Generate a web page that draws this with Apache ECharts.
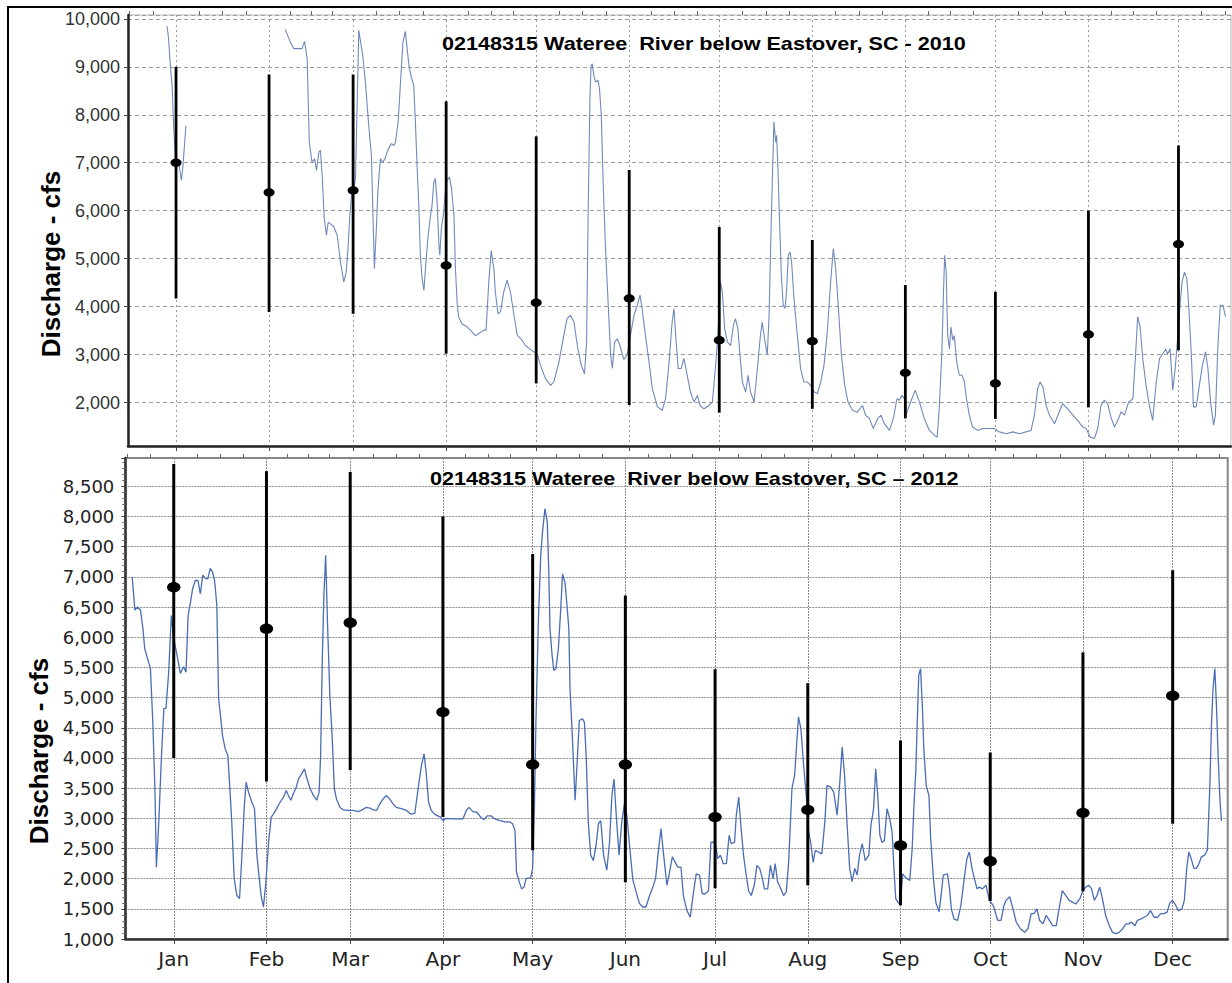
<!DOCTYPE html>
<html><head><meta charset="utf-8">
<script src="https://cdn.jsdelivr.net/npm/echarts@6/dist/echarts.min.js"></script>
<style>html,body{margin:0;padding:0;background:#fff}#c{width:1232px;height:983px}</style>
</head><body><div id="c"></div>
<script>
// ---- categories / tick labels ----
const months = ['Jan','Feb','Mar','Apr','May','Jun','Jul','Aug','Sep','Oct','Nov','Dec'];
const monthStartDay = [0,31,59,90,120,151,181,212,243,273,304,334];
const monthLength = [31,28,31,30,31,30,31,31,30,31,30,31];

// ---- monthly statistics (error bars), cfs ----
const stats2010Low  = [4170,3890,3850,3020,2400,1950,1790,1870,1670,1660,1900,3090];
const stats2010Mid  = [7000,6380,6420,4860,4080,4170,3300,3280,2620,2400,3420,5300];
const stats2010High = [9000,8840,8840,8280,7550,6850,5660,5390,4450,4310,6000,7360];
const stats2012Low  = [4000,3610,3800,3020,2470,1940,1840,1890,1560,1630,1790,2910];
const stats2012Mid  = [6830,6140,6240,4760,3890,3890,3020,3140,2550,2290,3090,5030];
const stats2012High = [8870,8750,8740,8000,7380,6690,5470,5240,4290,4090,5750,7110];

// ---- daily discharge [day of year (Jan 1 = 0), cfs] ----
const flow2010 = [
[-3,9850],[-2.5,9600],[-1.9,9030],[-1.3,8600],[-0.8,7780],[-0.2,7030],[0.9,7000],[1.8,6630],[2.3,6930],[3.3,7770],[4,null],
[36.4,9780],[38.1,9510],[39.2,9380],[42,9380],[42.8,9530],[43.7,9170],[44.4,7430],[45.3,7010],[46.2,7080],[46.8,6840],[47.6,7220],[48.1,7260],[48.7,6740],[49.4,5830],[50.1,5490],[50.7,5760],[51.4,5730],[52.6,5660],[53.7,5490],[54.8,4930],[55.9,4510],[56.7,4720],[57.3,5210],[57.9,5900],[58.7,6460],[59.2,6460],[59.8,6670],[60.9,9760],[62.2,9240],[63.1,8680],[64.2,7780],[65.1,7150],[65.6,5970],[66.1,4790],[66.7,5560],[67.3,6460],[68.1,7080],[68.9,7010],[69.6,7080],[70.3,7220],[71.1,7330],[71.8,7400],[72.6,7360],[73.1,7430],[74,7850],[74.8,8680],[75.6,9510],[76.4,9740],[77,9380],[77.6,9030],[78.4,8780],[79.2,8610],[79.8,7780],[80.3,6940],[80.9,6110],[81.4,5070],[82,4580],[82.6,4340],[83.1,4790],[84,5490],[84.8,5900],[85.3,6110],[85.9,6600],[86.4,6670],[87,6180],[87.6,5280],[87.9,5070],[88.4,5630],[89.2,5970],[89.8,6460],[90.3,6630],[91.1,6700],[91.8,6460],[92.6,5900],[93.1,4790],[93.7,4030],[94.2,3780],[95.3,3640],[97,3580],[98.7,3470],[99.8,3390],[100.9,3440],[102.6,3510],[103.3,3510],[104.2,4510],[105,5170],[105.9,4790],[106.4,4300],[107.3,3850],[108.1,3890],[109.2,4310],[110.3,4550],[111.4,4310],[112.6,3820],[113.7,3400],[115.3,3300],[116.4,3190],[117.6,3130],[119.2,3060],[120.3,3020],[121.4,2780],[123.1,2500],[124.8,2360],[125.9,2430],[127.6,2850],[129.2,3400],[130.3,3750],[131.4,3820],[132.6,3680],[133.7,3190],[135,2780],[136.1,2600],[136.8,3260],[137.3,5900],[137.9,8330],[138.3,9030],[138.7,9060],[139.2,8820],[139.8,8680],[140.6,8720],[141.1,8540],[141.7,7990],[142.3,6600],[143.1,5210],[143.9,4170],[144.8,2990],[145.4,2710],[146.1,3260],[147,3330],[147.9,3190],[149.2,2900],[150.3,2990],[151.4,3400],[152.6,3820],[153.7,4030],[154.6,4240],[155.3,3960],[156.4,3400],[157.6,2850],[158.7,2290],[160.4,1910],[162,1840],[163.1,2080],[164.2,2780],[165.3,3680],[165.9,3960],[166.4,3470],[167.3,2710],[168.3,2710],[169.2,2920],[170.1,2640],[171.4,2220],[172.6,2010],[173.7,2150],[174.6,1940],[175.9,1870],[177.6,1940],[178.7,2010],[179.7,2710],[180.6,3470],[181.4,4510],[182,4310],[182.8,3540],[183.7,3260],[184.8,3190],[185.7,3610],[186.4,3750],[187.2,3540],[187.9,2990],[188.7,2430],[189.8,2220],[190.6,2570],[191.4,2220],[192.6,2010],[193.7,2710],[194.6,3330],[195.3,3680],[196.1,3330],[197,2990],[197.6,3820],[198.1,5210],[198.8,6940],[199.2,7850],[199.8,7430],[200.1,7570],[200.6,6800],[201.1,5760],[201.7,4650],[202.3,4030],[202.9,3960],[203.4,4310],[204,5070],[204.6,5140],[205.1,4930],[205.9,4170],[207,3400],[208.1,2710],[209.2,2430],[210.3,2430],[211.4,2360],[212.6,2220],[213.7,2190],[214.8,2430],[215.9,2780],[217,3470],[218.1,4510],[219,5210],[219.8,4790],[220.7,3960],[221.7,2990],[222.8,2360],[223.9,2010],[225.4,1840],[227,1800],[228.7,1940],[229.8,1730],[231,1670],
[232.3,1460],[233.8,1670],[234.9,1740],[236,1560],[237.7,1420],[239,1670],[240.2,2080],[241,2050],[241.9,2150],[242.7,2080],[243.2,1740],[244.3,1940],[246.3,2260],[247.7,2010],[249.3,1670],[251,1420],[252.7,1320],[253.6,1280],[254.3,1870],[255.2,3120],[255.7,4300],[256.1,5070],[256.6,4720],[257.1,3400],[257.7,3120],[258.2,3580],[258.8,3300],[259.3,3400],[260.1,2850],[261,2570],[261.9,2570],[262.7,2430],[263.2,2150],[264.3,1740],[265.4,1490],[267.1,1420],[268.8,1460],[271,1460],[272.7,1460],[274.3,1390],[276.6,1350],[278.8,1390],[281,1350],[283.2,1390],[284.9,1420],[286,1740],[287.1,2290],[287.9,2430],[288.8,2330],[289.9,1940],[291,1740],[292.7,1560],[294.3,1810],[295.4,1980],[297.1,1870],[298.8,1740],[300.4,1630],[302.1,1490],[303.2,1460],[304.6,1280],[306,1250],[307.1,1460],[308.2,1940],[309.3,2050],[310.4,1980],[311.6,1670],[312.7,1490],[313.8,1630],[314.9,1810],[316,1740],[317.4,2010],[318.8,2080],[319.7,2990],[320.4,3790],[321.2,3580],[322.1,2920],[323.2,2360],[324.3,1940],[325.4,1630],[326.6,2430],[327.7,2920],[328.8,3020],[329.7,3110],[330.4,3020],[331.2,3120],[332.1,2260],[332.9,2710],[333.8,3400],[334.6,4100],[335.2,4510],[336,4720],[336.8,4580],[337.4,4030],[338.2,3120],[339,1910],[339.9,1910],[340.8,2290],[341.9,2750],[343,3060],[343.8,2710],[344.7,2010],[345.7,1530],[346.3,1740],[347.1,3120],[347.9,4030],[348.8,4030],[349.7,3790]
];

const flow2012 = [
[-13.9,7000],[-13,6450],[-12.2,6500],[-11.1,6450],[-10.3,6140],[-9.7,5810],[-8.9,5670],[-7.8,5480],[-7,4590],[-6.3,3490],[-5.8,2190],[-5,2940],[-4.1,4040],[-3.3,4820],[-2.6,4820],[-1.7,5420],[-0.8,6360],[0,5980],[1.1,5700],[2.2,5400],[3.3,5510],[4.1,5420],[4.8,6360],[5.6,6580],[6.3,6800],[7.2,6940],[8.1,6940],[8.9,6720],[9.7,7030],[10.6,6970],[11.4,6970],[12.2,7140],[13,7080],[13.7,6920],[14.4,6530],[15,4980],[15.6,4710],[16.3,4370],[17.2,4150],[18.1,4040],[18.9,3380],[19.4,2940],[20.2,2000],[21.1,1720],[22,1670],[22.8,2390],[23.6,3210],[24.2,3600],[25,3430],[26.1,3270],[27,3160],[27.8,2390],[28.6,2000],[29.2,1720],[30,1530],[30.8,1940],[31.7,2600],[32.6,3020],[33.3,3070],[34.4,3160],[35.6,3270],[36.7,3350],[37.6,3460],[38.3,3380],[39.2,3300],[40,3410],[40.8,3490],[41.7,3650],[42.8,3740],[43.7,3820],[44.4,3680],[45.6,3490],[46.7,3380],[47.8,3300],[48.6,3430],[49.1,4040],[49.7,5700],[50.2,6690],[50.8,7360],[51.4,6250],[52.2,5040],[53,4320],[53.7,3490],[54.4,3320],[55.6,3180],[56.7,3140],[58.3,3130],[60,3130],[61.7,3110],[63,3140],[64.4,3180],[65.6,3170],[66.7,3140],[67.8,3130],[68.9,3240],[70,3320],[71.1,3380],[72.2,3320],[73.3,3240],[74.4,3180],[76.1,3160],[77.8,3130],[79.2,3070],[80.6,3080],[81.7,3490],[82.8,3870],[83.7,4070],[84.4,3760],[85.2,3270],[86.1,3130],[87.2,3070],[88.3,3040],[89.2,3020],[90,2960],[91.1,3000],[92.8,2990],[95,2990],[96.7,2990],[97.8,3130],[98.7,3180],[100,3110],[101.4,3100],[102.6,3020],[103.7,2980],[104.8,3040],[106.1,3040],
[107.4,2990],[109.1,2960],[110.7,2940],[112.4,2940],[113.3,2910],[114.1,2800],[114.6,2110],[115.5,1950],[116.3,1830],[117.1,1860],[117.8,2000],[118.5,2010],[119.3,2010],[120,2170],[120.6,3210],[121.1,4590],[121.9,6250],[122.7,7360],[123.3,7740],[124.1,8130],[124.9,7910],[125.4,7080],[125.8,6140],[126.5,5700],[127.1,5450],[127.8,5480],[128.6,5810],[129.4,6470],[130,7050],[130.8,6910],[131.4,6580],[132.1,6140],[132.5,5150],[133.3,4320],[134.2,3300],[135,4040],[135.6,4620],[136.7,4650],[137.3,4590],[137.9,4040],[138.6,2940],[139.4,2390],[140.3,2300],[141.2,2550],[142,2910],[142.8,2960],[143.7,2390],[144.8,2140],[145.7,2600],[146.5,3380],[147.2,3650],[148.1,2940],[148.9,2390],[149.8,2940],[150.7,3240],[151.5,3050],[152.4,2550],[153.5,1980],[154.6,1780],[155.7,1590],[156.8,1530],[157.9,1530],[159.1,1720],[160.2,1860],[161.1,2000],[161.9,2390],[162.9,2830],[163.8,2390],[164.9,1890],[165.8,2110],[166.7,2360],[167.7,2270],[168.5,2190],[169.6,2190],[170.4,1720],[171.6,1470],[172.7,1360],[173.8,1780],[174.7,2080],[175.8,2060],[176.7,1750],[177.7,1750],[178.8,1800],[179.6,2600],[180.3,2610],[181.2,2550],[181.9,2330],[182.8,2390],[183.7,2250],[184.8,2250],[185.7,2720],[186.4,2580],[187.5,2600],[188.1,3050],[188.9,3350],[189.7,2830],[190.5,2390],[191.4,2060],[192.2,1800],[193.1,1720],[194.1,1890],[195,2220],[195.9,2170],[196.7,2030],[197.5,1830],[198.6,1830],[199.5,2220],[200.4,2000],[201.1,2250],[201.9,1950],[203,1830],[203.9,1720],[204.8,1780],[205.6,2270],[206.7,3490],[207.6,3710],[208.4,4320],[208.9,4680],[209.7,4480],[210.6,3880],[211.5,3380],[212.3,2770],[213.1,2550],[213.8,2270],[214.5,2470],[215.6,2440],[216.7,2410],[217.7,2940],[218.4,3540],[219.6,3520],[220.7,3430],[221.8,3050],[222.7,3600],[223.5,4180],[224.3,3710],[225.1,2940],[226,2170],[226.8,1950],[227.7,2170],[228.5,2060],[229.3,2390],[230.2,2580],
[231.2,2300],[232.4,2390],[233.1,2880],[234,3160],[234.7,3820],[235.4,3380],[236.1,2720],[236.8,2600],[237.6,2630],[238.5,3160],[239.4,2990],[240.2,2770],[240.8,2170],[241.4,1670],[242.1,1610],[243,1560],[243.7,2080],[244.5,2030],[245.2,2000],[246.1,1970],[246.9,2500],[247.5,3220],[248.1,3770],[248.6,4590],[249.1,5370],[249.7,5480],[250.3,4870],[250.8,4150],[251.6,3540],[252.5,3380],[253.1,2660],[254,2000],[254.8,1610],[255.9,1450],[256.7,1780],[257.3,2060],[258.7,2080],[259.4,1830],[260,1500],[260.9,1330],[262.1,1310],[263.2,1560],[264.3,2000],[265.2,2330],[266,2440],[266.9,2170],[267.7,2000],[268.6,1830],[269.3,1860],[270.4,1830],[271.6,1890],[272.7,1640],[273.5,1590],[274.2,1530],[275,1390],[275.5,1310],[276.6,1310],[277.6,1560],[278.3,1640],[279.5,1700],[280.6,1500],[281.7,1280],[283.1,1170],[284.5,1110],[285.6,1170],[286.7,1420],[287.6,1420],[288.6,1500],[289.5,1310],[290.6,1250],[291.7,1390],[292.8,1310],[293.9,1220],[295.1,1220],[296,1500],[297.1,1800],[298.3,1720],[299.4,1640],[300.5,1610],[301.6,1580],[303,1670],[303.8,1780],[304.9,1860],[306,1890],[306.9,1830],[307.8,1640],[308.7,1720],[309.6,1860],[310.5,1670],[311.6,1390],[312.8,1220],[313.9,1110],[315,1090],[316.1,1110],[317.3,1170],[318.4,1250],[319.3,1250],[320.2,1280],[321.4,1220],[322.2,1310],[323.3,1330],[324.4,1360],[325.5,1390],[326.6,1470],[327.8,1360],[328.9,1360],[330,1420],[331.1,1420],[332.2,1450],[333,1590],[333.9,1640],[335,1560],[335.9,1470],[337.1,1500],[337.9,1640],[338.7,2170],[339.4,2440],[340.2,2330],[341.1,2170],[341.9,2170],[342.8,2250],[343.6,2360],[344.7,2390],[345.6,2470],[346.4,3490],[347,4590],[347.5,5150],[348.1,5480],[348.6,4920],[349.2,4040],[349.8,3320],[350.3,2960]
];

// ---- build option ----
const quarterTicks = [];
monthStartDay.forEach((d, i) => { for (let k = 1; k < 4; k++) quarterTicks.push(+(d + k * monthLength[i] / 4).toFixed(2)); });
quarterTicks.unshift(-7.75, -15.5);
quarterTicks.push(365);

function bars(low, mid, high) { return monthStartDay.map((d, i) => [d, low[i], mid[i], high[i]]); }
function errorBarItem(rx, ry, lw) {
  return function (params, api) {
    const x = api.value(0);
    const top = api.coord([x, api.value(3)]);
    const bot = api.coord([x, api.value(1)]);
    const mid = api.coord([x, api.value(2)]);
    return { type: 'group', children: [
      { type: 'line', shape: { x1: top[0], y1: top[1], x2: bot[0], y2: bot[1] }, style: { stroke: '#000', lineWidth: lw } },
      { type: 'ellipse', shape: { cx: mid[0], cy: mid[1], rx: rx, ry: ry }, style: { fill: '#000' } }
    ]};
  };
}
const fmtThousands = v => v.toLocaleString('en-US');

const chart = echarts.init(document.getElementById('c'), null, { renderer: 'svg' });
chart.setOption({
  animation: false,
  backgroundColor: '#fff',
  grid: [
    { left: 128, top: 15, width: 1103, height: 431, show: true, borderColor: '#b5b5b5', borderWidth: 1 },
    { left: 125.3, top: 458, width: 1102.4, height: 481, show: true, borderColor: '#858585', borderWidth: 2 }
  ],
  xAxis: [
    { type: 'value', gridIndex: 0, min: -16, max: 351.5,
      axisLine: { show: true, onZero: false, lineStyle: { color: '#222', width: 2.5 } },
      axisTick: { show: true, customValues: monthStartDay, length: 5, lineStyle: { color: '#444' } },
      axisLabel: { show: false },
      splitLine: { show: true, lineStyle: { color: '#9c9c9c', type: [2, 3], width: 1 } } },
    { type: 'value', gridIndex: 1, min: -16.2, max: 352.4,
      axisLine: { show: true, onZero: false, lineStyle: { color: '#333', width: 2.5 } },
      axisTick: { show: true, customValues: monthStartDay, length: 5, lineStyle: { color: '#444' } },
      axisLabel: { customValues: monthStartDay, formatter: v => months[monthStartDay.indexOf(v)],
                   fontFamily: 'DejaVu Sans', fontSize: 20, color: '#222', margin: 10 },
      splitLine: { show: true, lineStyle: { color: '#8c8c8c', type: [2, 1], width: 1 } } },
    { type: 'value', gridIndex: 0, min: -16, max: 351.5, axisLine: { show: false, onZero: false },
      axisTick: { show: true, customValues: quarterTicks, length: 4, lineStyle: { color: '#666' } },
      axisLabel: { show: false }, splitLine: { show: false } },
    { type: 'value', gridIndex: 1, min: -16.2, max: 352.4, axisLine: { show: false, onZero: false },
      axisTick: { show: true, customValues: quarterTicks, length: 4, lineStyle: { color: '#666' } },
      axisLabel: { show: false }, splitLine: { show: false } }
  ],
  yAxis: [
    { type: 'value', gridIndex: 0, min: 1095, max: 10080, minInterval: 1000, maxInterval: 1000, splitNumber: 9,
      axisLine: { show: true, onZero: false, lineStyle: { color: '#222', width: 2.5 } },
      axisTick: { show: true, length: 4, lineStyle: { color: '#444' } },
      axisLabel: { formatter: fmtThousands, showMinLabel: false, showMaxLabel: false,
                   fontFamily: 'Liberation Sans', fontSize: 18, color: '#333', margin: 8 },
      splitLine: { show: true, lineStyle: { color: '#9c9c9c', type: [4, 3], width: 1 } } },
    { type: 'value', gridIndex: 1, min: 1000, max: 8970, interval: 500,
      axisLine: { show: true, onZero: false, lineStyle: { color: '#333', width: 2.5 } },
      axisTick: { show: true, length: 4, lineStyle: { color: '#444' } },
      minorTick: { show: true, splitNumber: 5, length: 3, lineStyle: { color: '#666' } },
      axisLabel: { formatter: fmtThousands, showMaxLabel: false,
                   fontFamily: 'DejaVu Sans', fontSize: 18, color: '#222', margin: 11 },
      splitLine: { show: true, lineStyle: { color: '#8c8c8c', type: [2, 1], width: 1 } } }
  ],
  series: [
    { type: 'line', xAxisIndex: 0, yAxisIndex: 0, data: flow2010, showSymbol: false, connectNulls: false,
      lineStyle: { color: '#7089bb', width: 1.1 }, z: 3 },
    { type: 'line', xAxisIndex: 1, yAxisIndex: 1, data: flow2012, showSymbol: false,
      lineStyle: { color: '#4a6db5', width: 1.3 }, z: 3 },
    { type: 'custom', xAxisIndex: 0, yAxisIndex: 0, data: bars(stats2010Low, stats2010Mid, stats2010High),
      encode: { x: 0, y: [1, 2, 3] }, renderItem: errorBarItem(5.5, 4.2, 2.8), z: 5 },
    { type: 'custom', xAxisIndex: 1, yAxisIndex: 1, data: bars(stats2012Low, stats2012Mid, stats2012High),
      encode: { x: 0, y: [1, 2, 3] }, renderItem: errorBarItem(6.7, 5.2, 3), z: 5 }
  ],
  graphic: [
    { type: 'rect', shape: { x: 8, y: 7, width: 1240, height: 1000 }, style: { fill: 'none', stroke: '#000', lineWidth: 2 }, z: 100 },
    { type: 'text', x: 442, y: 44, scaleX: 1.2, z: 100,
      style: { text: '02148315 Wateree  River below Eastover, SC - 2010', font: 'bold 18px "Liberation Sans"', fill: '#000', textVerticalAlign: 'middle' } },
    { type: 'text', x: 430, y: 479, scaleX: 1.2, z: 100,
      style: { text: '02148315 Wateree  River below Eastover, SC \u2013 2012', font: 'bold 18px "Liberation Sans"', fill: '#000', textVerticalAlign: 'middle' } },
    { type: 'text', x: 51, y: 264, rotation: Math.PI / 2, z: 100,
      style: { text: 'Discharge - cfs', font: 'bold 26px "Liberation Sans"', fill: '#000', textAlign: 'center', textVerticalAlign: 'middle' } },
    { type: 'text', x: 39, y: 751, rotation: Math.PI / 2, z: 100,
      style: { text: 'Discharge - cfs', font: 'bold 26px "Liberation Sans"', fill: '#000', textAlign: 'center', textVerticalAlign: 'middle' } }
  ]
});
</script></body></html>
